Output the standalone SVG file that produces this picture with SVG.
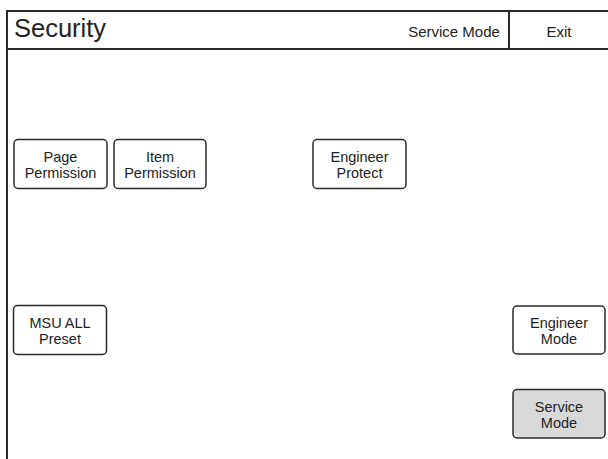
<svg xmlns="http://www.w3.org/2000/svg" width="608" height="459" viewBox="0 0 608 459">
<style>
.frame{fill:none;stroke:#2a2a2a;stroke-width:2}
.btn{fill:#fff;stroke:#2a2a2a;stroke-width:1.5}
.sel{fill:#d9d9d9}
text{font-family:"Liberation Sans",Arial,sans-serif;fill:#222}
.bt{font-size:14.5px;text-anchor:middle}
</style>
<rect width="608" height="459" fill="#fff"/>
<g id="frame">
<line class="frame" x1="7" y1="11" x2="608" y2="11"/>
<line class="frame" x1="7" y1="10" x2="7" y2="459"/>
<line class="frame" x1="7" y1="49" x2="608" y2="49" stroke-width="1.5"/>
<line class="frame" x1="509" y1="11" x2="509" y2="49" stroke-width="1.5"/>
<text x="14" y="37" font-size="25.5">Security</text>
<text x="454" y="37" font-size="15" text-anchor="middle">Service Mode</text>
<text x="559" y="37" font-size="15" text-anchor="middle">Exit</text>
</g>
<g id="page-permission">
<rect class="btn" x="14" y="139.5" width="93" height="49" rx="4"/>
<text class="bt" x="60.5" y="162">Page</text>
<text class="bt" x="60.5" y="177.5">Permission</text>
</g>
<g id="item-permission">
<rect class="btn" x="114" y="139.5" width="92" height="49" rx="4"/>
<text class="bt" x="160" y="162">Item</text>
<text class="bt" x="160" y="177.5">Permission</text>
</g>
<g id="engineer-protect">
<rect class="btn" x="313" y="139.5" width="93" height="49" rx="4"/>
<text class="bt" x="359.5" y="162">Engineer</text>
<text class="bt" x="359.5" y="177.5">Protect</text>
</g>
<g id="msu-all-preset">
<rect class="btn" x="13.5" y="305.5" width="93" height="49" rx="4"/>
<text class="bt" x="60" y="328">MSU ALL</text>
<text class="bt" x="60" y="343.5">Preset</text>
</g>
<g id="engineer-mode">
<rect class="btn" x="513" y="306" width="92" height="48" rx="4"/>
<text class="bt" x="559" y="328">Engineer</text>
<text class="bt" x="559" y="343.5">Mode</text>
</g>
<g id="service-mode">
<rect class="btn sel" x="513" y="389.5" width="92" height="48.5" rx="4"/>
<text class="bt" x="559" y="412">Service</text>
<text class="bt" x="559" y="427.5">Mode</text>
</g>
</svg>
